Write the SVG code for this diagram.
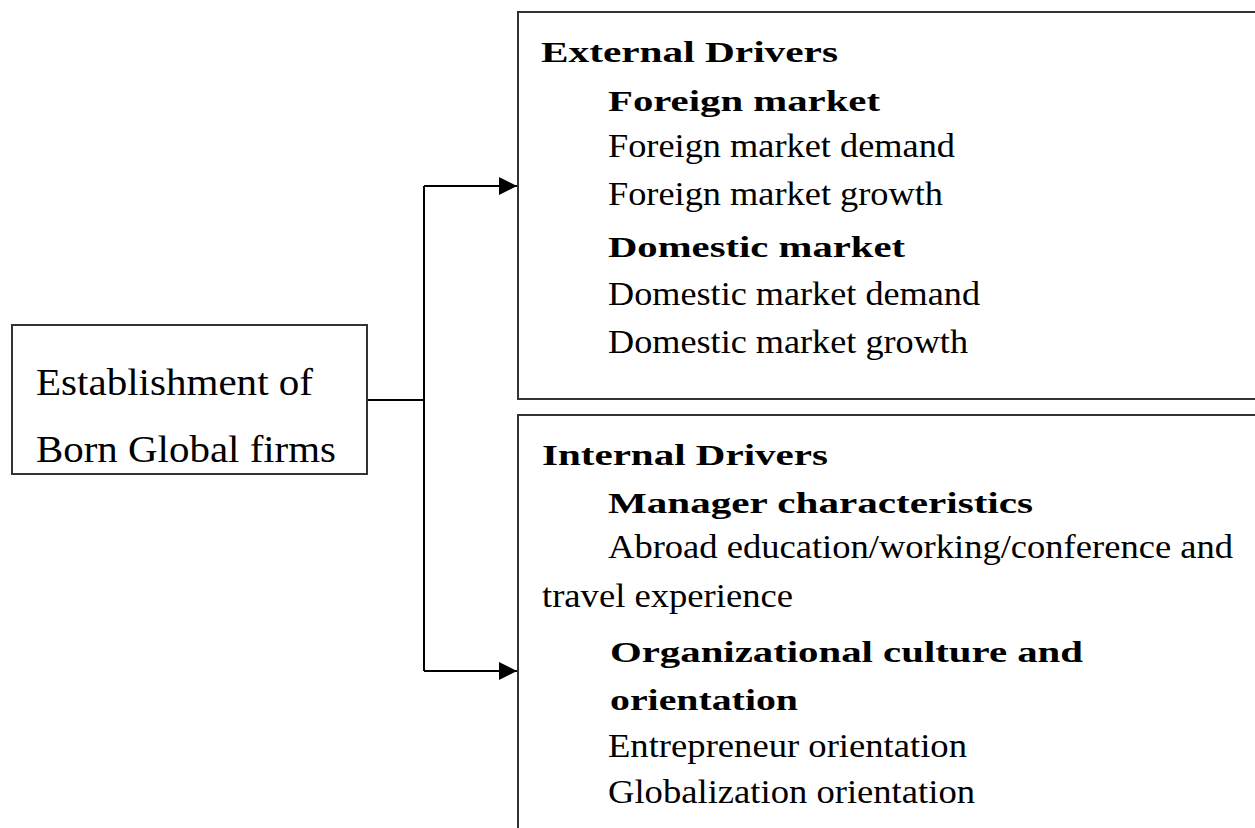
<svg xmlns="http://www.w3.org/2000/svg" width="1255" height="828" viewBox="0 0 1255 828">
<style>
text{font-family:"Liberation Serif","Times New Roman",serif;fill:#000}
.r{font-size:33px}
.b{font-size:30px;font-weight:bold}
.l{font-size:37px}
.box{fill:#fff;stroke:#333;stroke-width:2}
.c{fill:none;stroke:#000;stroke-width:2}
</style>
<defs>
<marker id="ah" markerWidth="18" markerHeight="18" refX="18" refY="9" orient="auto" markerUnits="userSpaceOnUse">
<path d="M0,0 L18,9 L0,18 Z" fill="#000"/>
</marker>
</defs>
<rect width="1255" height="828" fill="#fff"/>
<g id="connectors">
<path class="c" d="M367,400 H424"/>
<path class="c" d="M424,186 V671"/>
<path class="c" d="M424,186 H517" marker-end="url(#ah)"/>
<path class="c" d="M424,671 H517" marker-end="url(#ah)"/>
</g>
<g id="establishment">
<rect class="box" x="12" y="325" width="355" height="149" stroke-width="1.5"/>
<text class="l" x="36" y="395" textLength="277" lengthAdjust="spacingAndGlyphs">Establishment of</text>
<text class="l" x="36" y="462" textLength="300" lengthAdjust="spacingAndGlyphs">Born Global firms</text>
</g>
<g id="external">
<rect class="box" x="518" y="12" width="760" height="387"/>
<text class="b" x="541" y="62" textLength="297" lengthAdjust="spacingAndGlyphs">External Drivers</text>
<text class="b" x="608" y="111" textLength="272" lengthAdjust="spacingAndGlyphs">Foreign market</text>
<text class="r" x="608" y="157" textLength="347" lengthAdjust="spacingAndGlyphs">Foreign market demand</text>
<text class="r" x="608" y="205" textLength="335" lengthAdjust="spacingAndGlyphs">Foreign market growth</text>
<text class="b" x="608" y="257" textLength="297" lengthAdjust="spacingAndGlyphs">Domestic market</text>
<text class="r" x="608" y="305" textLength="372" lengthAdjust="spacingAndGlyphs">Domestic market demand</text>
<text class="r" x="608" y="353" textLength="360" lengthAdjust="spacingAndGlyphs">Domestic market growth</text>
</g>
<g id="internal">
<rect class="box" x="518" y="415" width="760" height="440"/>
<text class="b" x="542" y="465" textLength="286" lengthAdjust="spacingAndGlyphs">Internal Drivers</text>
<text class="b" x="608" y="513" textLength="425" lengthAdjust="spacingAndGlyphs">Manager characteristics</text>
<text class="r" x="608" y="558" textLength="625" lengthAdjust="spacingAndGlyphs">Abroad education/working/conference and</text>
<text class="r" x="542" y="607" textLength="251" lengthAdjust="spacingAndGlyphs">travel experience</text>
<text class="b" x="610" y="662" textLength="473" lengthAdjust="spacingAndGlyphs">Organizational culture and</text>
<text class="b" x="610" y="710" textLength="188" lengthAdjust="spacingAndGlyphs">orientation</text>
<text class="r" x="608" y="757" textLength="359" lengthAdjust="spacingAndGlyphs">Entrepreneur orientation</text>
<text class="r" x="608" y="803" textLength="367" lengthAdjust="spacingAndGlyphs">Globalization orientation</text>
</g>
</svg>
